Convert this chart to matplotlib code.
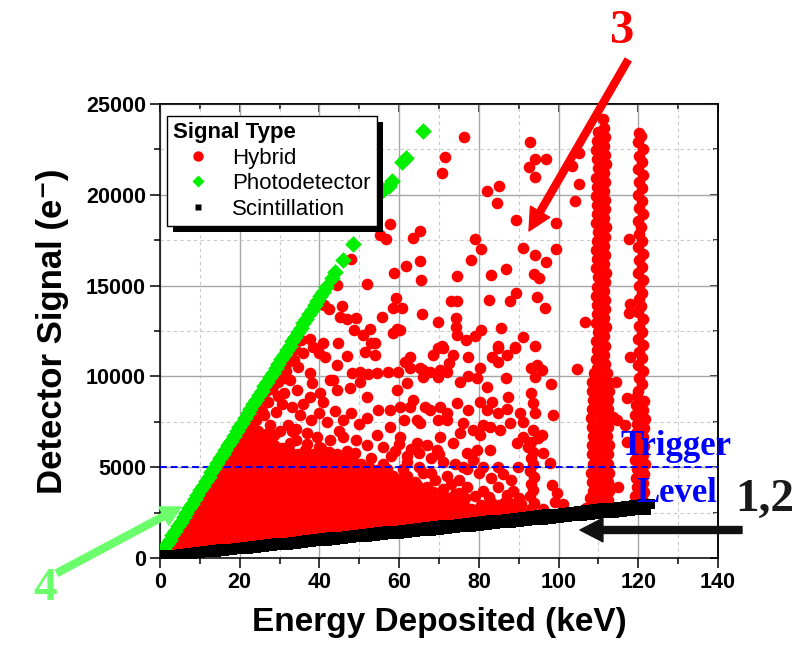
import matplotlib
matplotlib.use('Agg')
import matplotlib.pyplot as plt
from matplotlib.lines import Line2D
from matplotlib.patches import FancyArrowPatch, Rectangle
from matplotlib.ticker import MultipleLocator
from matplotlib.transforms import IdentityTransform

# ---------------- data ----------------
x_ticks = [0, 20, 40, 60, 80, 100, 120, 140]
y_ticks = [0, 5000, 10000, 15000, 20000, 25000]
trigger_level = 5000

# Photodetector (green diamonds)
green_x = [0.3, 1.0, 1.7, 2.4, 3.1, 3.8, 4.5, 5.2, 5.9, 6.6, 7.3, 8.0, 8.7, 9.4, 10.1,
           10.8, 11.5, 12.2, 12.9, 13.6, 14.3, 15.0, 15.7, 16.4, 17.1, 17.8, 18.5, 19.2,
           19.9, 20.6, 21.3, 22.0, 22.7, 23.4, 24.1, 24.8, 25.5, 26.2, 26.9, 27.6, 28.3,
           29.0, 29.7, 30.4, 31.1, 31.8, 32.5, 33.2, 33.9, 34.6, 35.3, 36.0, 36.7, 37.4,
           38.1, 38.8, 39.5, 40.2, 40.9, 41.6,
           43.1, 43.9, 45.8, 48.3, 56.0, 57.5, 58.3, 60.8, 61.7, 66.1]
green_y = [260, 500, 750, 1000, 1250, 1500, 1750, 2000, 2240, 2490, 2740, 2990, 3240, 3490,
           3740, 3980, 4230, 4480, 4730, 4980, 5230, 5480, 5720, 5970, 6220, 6470, 6720,
           6970, 7210, 7460, 7710, 7960, 8210, 8460, 8710, 8950, 9200, 9450, 9700, 9950,
           10200, 10450, 10690, 10940, 11190, 11440, 11690, 11940, 12180, 12430, 12680,
           12930, 13180, 13430, 13680, 13920, 14170, 14420, 14670, 14920,
           15400, 15770, 16410, 17300, 20270, 20500, 20750, 21800, 22010, 23530]

# Scintillation (black squares), two nearly coincident series (1 and 2)
scint1_x = [0, 2, 4, 6, 8, 10, 12, 14, 16, 18, 20, 22, 24, 26, 28, 30, 32, 34, 36, 38, 40,
            42, 44, 46, 48, 50, 52, 54, 56, 58, 60, 62, 64, 66, 68, 70, 72, 74, 76, 78, 80,
            82, 84, 86, 88, 90, 92, 94, 96, 98, 100, 102, 104, 106, 108, 110, 112, 114,
            116, 118, 120, 122]
scint1_y = [50, 90, 140, 180, 220, 270, 310, 350, 390, 440, 480, 520, 570, 610, 650, 700,
            740, 780, 820, 870, 910, 950, 1000, 1040, 1080, 1130, 1170, 1210, 1250, 1300,
            1340, 1380, 1430, 1470, 1510, 1560, 1600, 1640, 1680, 1730, 1770, 1810, 1860,
            1900, 1940, 1990, 2030, 2070, 2110, 2160, 2200, 2240, 2290, 2330, 2370, 2420,
            2460, 2500, 2540, 2590, 2630, 2670]
scint2_x = [1, 3, 5, 7, 9, 11, 13, 15, 17, 19, 21, 23, 25, 27, 29, 31, 33, 35, 37, 39, 41,
            43, 45, 47, 49, 51, 53, 55, 57, 59, 61, 63, 65, 67, 69, 71, 73, 75, 77, 79, 81,
            83, 85, 87, 89, 91, 93, 95, 97, 99, 101, 103, 105, 107, 109, 111, 113, 115,
            117, 119, 121, 123]
scint2_y = [140, 190, 240, 280, 330, 380, 430, 470, 520, 570, 610, 660, 710, 750, 800, 850,
            900, 940, 990, 1040, 1080, 1130, 1180, 1220, 1270, 1320, 1370, 1410, 1460, 1510,
            1550, 1600, 1650, 1700, 1740, 1790, 1840, 1880, 1930, 1980, 2020, 2070, 2120,
            2170, 2210, 2260, 2310, 2350, 2400, 2450, 2490, 2540, 2590, 2640, 2680, 2730,
            2780, 2820, 2870, 2920, 2960, 3000]

# Hybrid (red circles): dense wedge, read column by column
dense_col_x = [2.5, 4.5, 6.5, 8.5, 10.5, 12.5, 14.5, 16.5, 18.5, 20.5, 22.5, 24.5, 26.5,
               28.5, 30.5, 32.5, 34.5, 36.5, 38.5, 40.5, 42.5, 44.5, 46.5, 48.5, 50.5, 52.5,
               54.5, 56.5, 58.5, 60.5, 62.5, 64.5, 66.5, 68.5, 70.5, 72.5, 74.5, 76.5,
               78.5, 80.5, 82.5, 84.5, 86.5, 88.5, 90.5]
dense_col_y = [
    [410, 850],
    [700, 1150, 1580],
    [500, 950, 1400, 1850, 2300],
    [770, 1230, 1680, 2120, 2580, 3000],
    [600, 1040, 1500, 1940, 2400, 2850, 3300, 3700],
    [870, 1320, 1760, 2220, 2660, 3110, 3560, 4000, 4430],
    [690, 1130, 1590, 2030, 2480, 2940, 3380, 3830, 4290, 4730, 5150],
    [960, 1400, 1860, 2300, 2760, 3200, 3650, 4100, 4560, 5000, 5450, 5880],
    [780, 1230, 1680, 2130, 2580, 3030, 3480, 3930, 4380, 4830, 5280, 5730, 6180, 6560],
    [1050, 1500, 1950, 2400, 2850, 3300, 3750, 4200, 4650, 5100, 5550, 6000, 6450, 6900, 7250],
    [870, 1320, 1770, 2220, 2670, 3120, 3570, 4020, 4470, 4920, 5370, 5820, 6270, 6720, 7150, 7700],
    [1140, 1590, 2040, 2490, 2940, 3390, 3840, 4290, 4740, 5190, 5640, 6090, 6550, 7000],
    [960, 1410, 1860, 2310, 2760, 3210, 3660, 4110, 4560, 5010, 5460, 5910, 6400, 6850],
    [1230, 1680, 2130, 2580, 3030, 3480, 3930, 4380, 4830, 5280, 5750, 6250, 6750],
    [1050, 1500, 1950, 2400, 2850, 3300, 3750, 4200, 4650, 5100, 5550, 6050],
    [1320, 1770, 2220, 2670, 3120, 3570, 4020, 4470, 4920, 5400, 5850, 6350],
    [1140, 1590, 2040, 2490, 2940, 3390, 3840, 4290, 4740, 5200, 5700],
    [1420, 1870, 2320, 2770, 3220, 3670, 4120, 4570, 5050, 5500, 5950],
    [1240, 1690, 2140, 2590, 3040, 3490, 3940, 4390, 4850, 5300, 5750],
    [1510, 1960, 2410, 2860, 3310, 3760, 4210, 4700, 5150, 5600, 6050],
    [1330, 1780, 2230, 2680, 3130, 3580, 4030, 4500, 4950, 5400, 5850],
    [1600, 2050, 2500, 2950, 3400, 3850, 4300, 4800, 5250, 5700],
    [1420, 1870, 2320, 2770, 3220, 3670, 4150, 4650, 5100, 5550],
    [1690, 2140, 2590, 3040, 3490, 3950, 4450, 4900, 5350],
    [1510, 1960, 2410, 2860, 3310, 3780, 4300, 4750, 5200],
    [1780, 2230, 2680, 3130, 3600, 4100, 4550, 5000],
    [1600, 2050, 2500, 2950, 3420, 3950, 4400, 4850],
    [1880, 2330, 2780, 3250, 3800, 4250, 4700],
    [1700, 2150, 2600, 3060, 3600, 4050, 4500],
    [1970, 2420, 2900, 3450, 3900, 4350],
    [1790, 2240, 2700, 3250, 3700, 4150],
    [2060, 2550, 3100, 3550, 4000],
    [1880, 2350, 2900, 3400, 3850],
    [2150, 2700, 3200, 3650],
    [1970, 2450, 3000, 3500],
    [2250, 2800, 3300],
    [2060, 2600, 3050],
    [2300, 2800, 3300],
    [2200, 2650],
    [2300, 2900],
    [2400, 3350],
    [2350, 2800],
    [2450, 3100],
    [2450, 3000, 3700],
    [2550, 2950],
]

hybrid_upper = [
    (76.3, 23170), (71.5, 22100), (70.7, 21220), (92.8, 22930), (94.1, 21960), (96.8, 21970),
    (92.5, 21550), (94.0, 21000), (82.0, 20230), (85.0, 20500), (84.5, 19570), (105.0, 22290),
    (103.4, 21590), (105.1, 20580), (104.0, 19680), (89.4, 18630), (99.4, 18430), (65.2, 18030),
    (63.4, 17620), (79.0, 17570), (80.5, 17020), (91.2, 17090), (94.0, 16690), (99.4, 17000),
    (61.6, 16100), (65.2, 16360), (65.5, 15290), (78.1, 16430), (96.8, 16280), (74.4, 15510),
    (83.0, 15600), (86.9, 15910), (93.8, 15620), (95.2, 15400), (117.7, 17590), (73.1, 14150),
    (74.4, 14150), (82.6, 14210), (87.7, 14140), (89.4, 14580), (94.6, 14390), (96.6, 13750),
    (60.6, 13770), (65.7, 13450), (69.8, 12980), (74.3, 13220), (74.3, 12740), (74.6, 12280),
    (76.7, 12010), (79.0, 12230), (80.5, 12560), (85.5, 12680), (91.0, 12170), (106.6, 12980),
    (117.7, 13470), (60.2, 12560), (57.7, 18400), (55.2, 17800), (56.7, 17570), (47.9, 16450),
    (58.7, 15680), (51.9, 15090), (44.5, 15030), (59.3, 14300), (58.5, 13750), (41.2, 13930),
    (42.5, 13700), (45.6, 13900), (55.6, 13290), (49.3, 13200), (46.8, 13150), (45.2, 13290),
    (52.7, 12590), (51.0, 12280), (48.7, 12560), (59.5, 12590), (58.5, 12370), (117.9, 13990),
    (37.6, 12040),
]

hybrid_mid = [
    (52.9, 11860), (54.0, 11820), (51.4, 11360), (54.0, 11180), (44.6, 11860), (41.0, 11820),
    (38.5, 11640), (40.0, 11270), (41.4, 11090), (46.8, 11140), (44.3, 10630), (62.7, 11090),
    (61.5, 10810), (68.4, 11180), (69.8, 11550), (71.1, 11550), (73.4, 11180), (72.6, 10720),
    (70.2, 10350), (67.7, 10260), (69.8, 9980), (66.1, 10350), (48.1, 10200), (50.2, 10250),
    (52.3, 10150), (54.4, 10200), (57.3, 10250), (59.8, 10250), (43.5, 9800), (77.4, 11090),
    (62.7, 10440), (71.9, 10260), (75.3, 9710), (77.4, 10020), (79.5, 9900), (80.3, 10440),
    (83.2, 11090), (84.9, 10810), (87.0, 11180), (84.9, 11550), (89.1, 11580), (86.8, 9900),
    (87.2, 8890), (93.2, 10440), (94.5, 10630), (95.8, 10350), (94.1, 9980), (98.0, 9580),
    (104.7, 10430), (114.4, 9680), (70.7, 11650), (84.8, 11650), (89.0, 11600), (94.0, 11700),
    (35.9, 11270), (34.7, 10540), (37.6, 10170), (32.6, 9800), (38.1, 9620), (34.3, 9250),
    (37.6, 8890), (40.1, 9070), (42.6, 9800), (44.3, 9250), (47.7, 9340), (50.2, 9710),
    (59.4, 9250), (61.9, 9620), (65.2, 10440), (66.1, 9980), (51.9, 8890), (54.8, 8150),
    (57.7, 8150), (60.2, 8330), (63.6, 8700), (66.5, 8330), (70.2, 8330), (71.9, 7600),
    (64.4, 7600), (61.1, 7600), (57.7, 7240), (54.4, 6780), (49.3, 6510), (46.0, 6690),
    (42.6, 6510), (39.3, 6690), (36.8, 6870),
    (24.0, 7600), (25.5, 8100), (27.0, 8600), (28.2, 9300), (26.0, 7850), (29.0, 8050),
    (30.5, 8500), (31.0, 9100), (33.0, 8300), (35.0, 7900), (32.0, 7300), (27.5, 7300),
    (30.0, 7000), (34.0, 7100), (38.0, 7600), (40.0, 8000), (42.0, 7500), (44.0, 8100),
    (46.0, 7600), (48.0, 8000), (50.0, 7400), (52.0, 7700), (45.0, 7000), (29.5, 9700),
    (31.5, 10300), (33.5, 10900), (23.5, 8200), (25.0, 8700), (26.5, 9200), (36.0, 8500),
    (41.0, 8600), (28.7, 9600), (30.4, 10200), (32.0, 10800), (33.8, 11500), (35.5, 12000),
    (31.0, 9900), (29.5, 8900),
    (49.0, 5800), (53.0, 5500), (56.0, 5200), (58.0, 5600), (62.0, 5300), (65.0, 5000),
    (70.0, 5700), (67.0, 6200), (63.0, 6000), (60.0, 6300), (56.0, 6100), (52.0, 6200),
    (47.0, 5900), (43.0, 5700), (40.0, 6100), (37.0, 6300), (34.0, 6500), (33.0, 7000),
    (74.4, 8520), (77.4, 8150), (80.3, 8610), (82.0, 9430), (83.2, 8610), (84.9, 7970),
    (87.0, 8190), (82.0, 8150), (76.1, 7420), (78.6, 7050), (75.3, 6870), (80.3, 6780),
    (82.8, 7230), (85.3, 7050), (67.7, 8150), (69.8, 7600), (65.2, 7420), (71.9, 7970),
    (62.7, 8330), (60.2, 6680), (64.4, 6320), (69.4, 5950), (73.6, 6320), (76.9, 5770),
    (79.5, 5950), (82.8, 5950), (70.2, 6680), (89.5, 6320), (87.8, 7420), (81.0, 7320),
]

hybrid_low = [
    (89.9, 5030), (84.9, 3930), (87.0, 3470), (84.9, 5030), (81.1, 5030), (78.6, 5400),
    (76.1, 5030), (93.2, 9070), (93.7, 8520), (94.1, 7970), (90.3, 7970), (91.1, 7510),
    (93.7, 7050), (94.9, 6590), (96.2, 5770), (92.4, 6130), (91.1, 6680), (95.8, 6770),
    (97.8, 5210), (98.3, 4020), (99.1, 3100), (98.7, 7880), (89.5, 2460), (99.5, 3560),
    (93.0, 2700), (93.8, 3050), (92.8, 3400), (93.6, 3750), (93.0, 4100), (93.9, 4450),
    (92.9, 4800), (93.7, 5150), (93.1, 5500), (93.5, 5850), (93.2, 6400),
    (62.0, 4500), (64.0, 4200), (66.0, 4700), (67.0, 3900), (69.0, 4300), (71.0, 3800),
    (73.0, 4100), (75.0, 3600), (77.0, 3900), (79.0, 3400), (81.0, 3700), (83.0, 3100),
    (85.0, 2900), (78.0, 2700), (80.0, 2450), (82.0, 2600), (86.0, 2500), (88.0, 2800),
    (90.0, 3300), (88.0, 4300), (86.0, 4600), (83.0, 4400), (80.0, 4700), (77.0, 4900),
    (74.0, 5200), (71.0, 5300), (68.0, 5500), (65.0, 5800), (62.0, 5600), (59.0, 5900),
    (57.0, 4900), (61.0, 4900), (72.0, 3300), (76.0, 3100), (70.0, 2600), (74.0, 3500),
    (66.0, 3300), (63.0, 3800), (68.0, 4700), (72.0, 4500), (75.0, 4300),
    (107.9, 3300), (107.0, 2750), (118.0, 11090), (117.2, 8790), (116.7, 7320),
    (117.1, 6400), (115.0, 3930), (114.6, 7600), (113.7, 7780), (96.0, 2700), (101.0, 3000),
]

# vertical band near 110 keV
col110 = [
    (108.5, 2700), (108.3, 3200), (108.6, 3700), (108.4, 4200), (108.2, 4700), (108.6, 5200),
    (108.4, 5700), (108.3, 6200), (108.7, 6700), (108.4, 7200), (108.2, 7700), (108.5, 8200),
    (108.6, 8700), (108.3, 9200), (108.5, 9700), (108.9, 10200),
    (110.5, 2950), (110.3, 3450), (110.6, 3950), (110.4, 4450), (110.5, 4950), (110.2, 5450),
    (110.6, 5950), (110.4, 6450), (110.3, 6950), (110.7, 7450), (110.4, 7950), (110.5, 8450),
    (110.2, 8950), (110.5, 9450), (110.4, 9950),
    (112.5, 2700), (112.3, 3200), (112.6, 3700), (112.4, 4200), (112.7, 4700), (112.3, 5200),
    (112.5, 5700), (112.6, 6200), (112.2, 6700), (112.5, 7200), (112.7, 7700), (112.4, 8200),
    (112.3, 8700), (112.6, 9200), (112.4, 9700), (112.1, 10200),
    (109.6, 10450), (109.4, 10950), (109.7, 11450), (109.5, 11950), (109.8, 12450),
    (109.4, 12950), (109.6, 13450), (109.7, 13950), (109.3, 14450), (109.6, 14950),
    (109.8, 15450), (109.5, 15950), (109.7, 16450), (109.4, 16950), (109.6, 17450),
    (109.8, 17950), (109.5, 18450), (109.7, 18950), (109.6, 19450), (109.4, 19950),
    (109.7, 20450), (109.5, 20950), (109.8, 21450), (109.6, 21950), (109.4, 22450),
    (109.7, 22950), (110.0, 23450),
    (111.6, 10700), (111.4, 11200), (111.7, 11700), (111.5, 12200), (111.8, 12700),
    (111.4, 13200), (111.6, 13700), (111.7, 14200), (111.3, 14700), (111.6, 15200),
    (111.8, 15700), (111.5, 16200), (111.7, 16700), (111.4, 17200), (111.6, 17700),
    (111.8, 18200), (111.5, 18700), (111.7, 19200), (111.6, 19700), (111.4, 20200),
    (111.7, 20700), (111.5, 21200), (111.8, 21700), (111.6, 22200), (111.4, 22700),
    (111.7, 23200), (111.4, 23700), (111.2, 24200),
]

# vertical band near 120 keV
col120 = [
    (119.6, 2900), (119.3, 3400), (119.7, 3900), (119.4, 4400), (119.6, 4900), (119.2, 5400),
    (119.5, 5900), (119.7, 6400), (119.4, 6900), (119.6, 7400), (119.3, 7900), (119.5, 8400),
    (119.7, 8900),
    (121.3, 3150), (121.5, 3650), (121.2, 4150), (121.4, 4650), (121.6, 5150), (121.3, 5650),
    (121.5, 6150), (121.2, 6650), (121.4, 7150), (121.6, 7650), (121.3, 8150), (121.5, 8650),
    (120.0, 9200), (121.0, 9560), (120.2, 9920), (121.1, 10280), (119.9, 10640),
    (120.9, 11000), (120.1, 11360), (121.2, 11720), (120.0, 12080), (121.0, 12440),
    (120.3, 12800), (121.1, 13160), (119.9, 13520), (120.8, 13880), (120.1, 14240),
    (121.0, 14600), (120.2, 14960), (121.2, 15320), (120.0, 15680), (120.9, 16040),
    (120.1, 16400), (121.1, 16760), (119.9, 17120), (121.0, 17480), (120.2, 17840),
    (120.8, 18200), (120.0, 18560), (121.1, 18920), (120.2, 19280), (121.0, 19640),
    (119.9, 20000), (120.9, 20360), (120.1, 20720), (121.2, 21080), (120.0, 21440),
    (121.0, 21800), (120.2, 22160), (121.1, 22520), (120.0, 22880), (120.8, 23240),
    (120.3, 23390),
]

# ---------------- assemble ----------------
hyb_x, hyb_y = [], []
for cx, ys in zip(dense_col_x, dense_col_y):
    for v in ys:
        hyb_x.append(cx)
        hyb_y.append(v)
for group in (hybrid_upper, hybrid_mid, hybrid_low, col110, col120):
    for px, py in group:
        hyb_x.append(px)
        hyb_y.append(py)

# ---------------- figure ----------------
plt.rcParams['font.family'] = ['Liberation Sans', 'DejaVu Sans']
plt.rcParams['font.weight'] = 'bold'

W, H = 794, 649
fig = plt.figure(figsize=(W / 100, H / 100), dpi=100)
ax = fig.add_axes([160 / W, 1 - 558 / H, 558 / W, 454 / H])

def fpt(px, py):
    return (px / W, 1 - py / H)

ax.set_xlim(0, 140)
ax.set_ylim(0, 25000)
ax.set_xticks(x_ticks)
ax.set_yticks(y_ticks)
ax.xaxis.set_minor_locator(MultipleLocator(10))
ax.yaxis.set_minor_locator(MultipleLocator(2500))
ax.set_axisbelow(True)
ax.grid(which='major', color='#a6a6a6', lw=1.0, ls='-')
ax.grid(which='minor', color='#c8c8c8', lw=0.8, ls=(0, (3, 3)))

ax.scatter(hyb_x, hyb_y, s=70, marker='o', color='#ff0000', linewidths=0, zorder=2)
ax.axhline(trigger_level, color='#0000ff', lw=1.4, ls=(0, (3.5, 2)), zorder=3)
ax.scatter(green_x, green_y, s=72, marker='D', color='#00f000', linewidths=0, zorder=4)
ax.scatter(scint1_x, scint1_y, s=55, marker='s', color='black', linewidths=0, zorder=4)
ax.scatter(scint2_x, scint2_y, s=55, marker='s', color='black', linewidths=0, zorder=4)

for sp in ax.spines.values():
    sp.set_linewidth(1.1)
ax.tick_params(which='major', direction='out', length=7, width=1.1, labelsize=15.5, pad=3)
ax.tick_params(which='minor', direction='out', length=4, width=1.1)

secx = ax.secondary_xaxis('top')
secx.set_xticks(x_ticks)
secx.xaxis.set_minor_locator(MultipleLocator(10))
secx.tick_params(which='major', direction='in', length=6, width=1.1, labeltop=False)
secx.tick_params(which='minor', direction='in', length=3.5, width=1.1)
secx.spines['top'].set_linewidth(1.1)
secy = ax.secondary_yaxis('right')
secy.set_yticks(y_ticks)
secy.yaxis.set_minor_locator(MultipleLocator(2500))
secy.tick_params(which='major', direction='in', length=6, width=1.1, labelright=False)
secy.tick_params(which='minor', direction='in', length=3.5, width=1.1)
secy.spines['right'].set_linewidth(1.1)

ax.set_xlabel('Energy Deposited (keV)', fontsize=24, fontweight='bold', labelpad=10)
ax.set_ylabel('Detector Signal (e\u207b)', fontsize=25, fontweight='bold', labelpad=12)

# legend
handles = [
    Line2D([], [], ls='none', marker='o', color='#ff0000', markersize=7.5, mec='none'),
    Line2D([], [], ls='none', marker='D', color='#00f000', markersize=6.5, mec='none'),
    Line2D([], [], ls='none', marker='s', color='black', markersize=5, mec='none'),
]
leg = fig.legend(handles, ['Hybrid', 'Photodetector', 'Scintillation'],
                 title='Signal Type', loc='upper left',
                 bbox_to_anchor=fpt(166.7, 115.7), borderaxespad=0,
                 prop={'family': ['Liberation Sans', 'DejaVu Sans'], 'size': 16, 'weight': 'normal'},
                 title_fontproperties={'family': ['Liberation Sans', 'DejaVu Sans'], 'size': 16, 'weight': 'bold'},
                 alignment='left', frameon=True, fancybox=False, framealpha=1,
                 edgecolor='black', borderpad=0.3, labelspacing=0.2,
                 handlelength=2.2, handletextpad=0.45)
leg.get_frame().set_linewidth(1.0)
leg.set_zorder(10)

# annotations
serif = ['Liberation Serif', 'DejaVu Serif']
fig.text(*fpt(622, 43), '3', color='#ff0000', fontsize=35, family=serif,
         weight='bold', ha='center', va='baseline', zorder=12)
fig.text(*fpt(45, 600), '4', color='#6cff6c', fontsize=34, family=serif,
         weight='bold', ha='center', va='baseline', zorder=12)
fig.text(*fpt(735, 511), '1,2', color='#1a1a1a', fontsize=34, family=serif,
         weight='bold', ha='left', va='baseline', zorder=12)
fig.text(*fpt(620, 455), 'Trigger', color='#0000ff', fontsize=25, family=serif,
         weight='bold', ha='left', va='baseline', zorder=12)
fig.text(*fpt(636.7, 501.7), 'Level', color='#0000ff', fontsize=25, family=serif,
         weight='bold', ha='left', va='baseline', zorder=12)

def arrow(p0, p1, color, hl, hw, tw):
    a = FancyArrowPatch(fpt(*p0), fpt(*p1), transform=fig.transFigure,
                        arrowstyle=f'simple,head_length={hl},head_width={hw},tail_width={tw}',
                        color=color, shrinkA=0, shrinkB=0, mutation_scale=1, zorder=11)
    fig.add_artist(a)

arrow((628, 60), (529, 231), '#ff0000', 16, 16, 5)
arrow((57, 573), (181, 507), '#6cff6c', 14, 15, 5)
arrow((742, 530), (580, 530), '#111111', 16.5, 17, 5)

# legend drop shadow
fig.canvas.draw()
bb = leg.get_window_extent()
shadow = Rectangle((bb.x0 + 6, bb.y0 - 6), bb.width, bb.height, transform=IdentityTransform(),
                   facecolor='black', edgecolor='none', zorder=9)
fig.add_artist(shadow)

fig.savefig('out.png', dpi=100)
